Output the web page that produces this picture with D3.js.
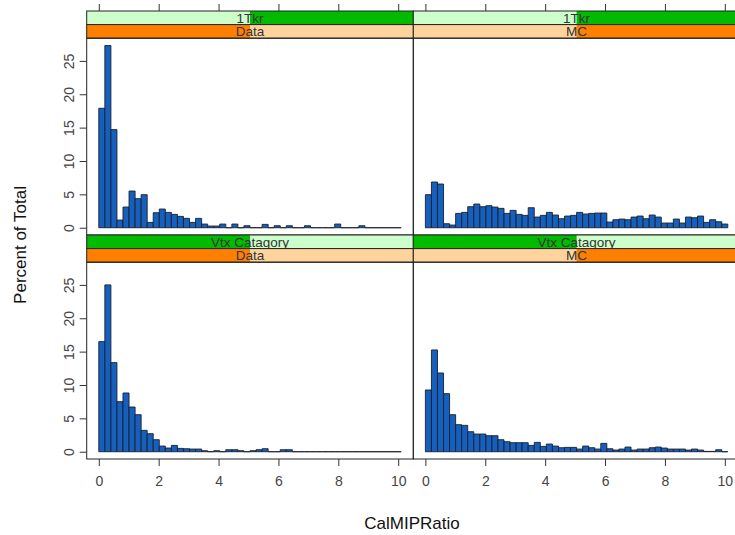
<!DOCTYPE html>
<html>
<head>
<meta charset="utf-8">
<script src="https://cdn.jsdelivr.net/npm/d3@7/dist/d3.min.js"></script>
<style>
  body { margin: 0; background: #fff; }
  text { font-family: "Liberation Sans", Arial, sans-serif; }
</style>
</head>
<body>
<div id="chart"></div>
<script>
// histogram bins start at 0, each bin is this wide (50 bins)
var binWidth = 0.202;
var xTicks = [0, 2, 4, 6, 8, 10];
var yTicks = [0, 5, 10, 15, 20, 25];

// percent of total per bin
var tkrData = [17.9, 27.3, 14.7, 1.15, 3.1, 5.5, 4.35, 4.95, 0.8, 2.25,
               2.8, 2.3, 2.0, 1.7, 1.4, 0.8, 1.4, 0.55, 0.25, 0.25,
               0.55, 0, 0.55, 0, 0.3, 0, 0, 0.5, 0, 0.3,
               0, 0.3, 0, 0, 0.3, 0, 0, 0, 0, 0.55,
               0, 0, 0, 0.3, 0, 0, 0, 0, 0, 0];
var tkrMC = [4.95, 6.85, 6.55, 0.6, 0.4, 2.15, 2.3, 3.15, 3.55, 3.15,
             3.3, 3.1, 2.9, 2.15, 2.6, 2.0, 1.85, 3.0, 1.6, 1.85,
             2.3, 1.9, 1.35, 1.75, 1.85, 2.3, 2.05, 2.15, 2.2, 2.2,
             0.85, 1.2, 1.3, 1.2, 1.6, 1.75, 1.35, 1.9, 1.6, 0.7,
             0.7, 1.3, 0.7, 1.6, 1.5, 1.75, 0.8, 1.2, 0.9, 0.55];
var vtxData = [16.5, 25.0, 13.35, 7.5, 8.8, 6.7, 5.55, 3.2, 2.7, 1.8,
               0.85, 0.55, 0.95, 0.5, 0.45, 0.4, 0.4, 0.15, 0, 0.15,
               0, 0.3, 0.3, 0.15, 0, 0.15, 0.3, 0.45, 0, 0,
               0.3, 0.3, 0, 0, 0, 0, 0, 0, 0, 0,
               0, 0, 0, 0, 0, 0, 0, 0, 0, 0];
var vtxMC = [9.25, 15.25, 11.8, 8.7, 5.55, 4.05, 3.95, 3.0, 2.65, 2.65,
             2.4, 2.4, 1.8, 1.5, 1.35, 1.35, 1.35, 0.95, 1.4, 0.8,
             1.15, 0.85, 0.6, 0.65, 0.65, 0.4, 0.85, 0.6, 0.4, 1.25,
             0.45, 0.25, 0.4, 0.7, 0.25, 0.4, 0.4, 0.6, 0.7, 0.55,
             0.4, 0.4, 0.4, 0.25, 0.4, 0.25, 0.05, 0.05, 0.3, 0];

var outerLevels = ["Vtx Catagory", "1Tkr"];
var innerLevels = ["Data", "MC"];

var panels = [
  {row: 0, col: 0, values: tkrData, outer: 1, inner: 0},
  {row: 0, col: 1, values: tkrMC,   outer: 1, inner: 1},
  {row: 1, col: 0, values: vtxData, outer: 0, inner: 0},
  {row: 1, col: 1, values: vtxMC,   outer: 0, inner: 1}
];

var w = 735, h = 535;
var left = 86.7, panelW = 326.6;
var rowTop = [11, 235];
var stripH = 13.6;
var plotH = 196.8;

var lightCol = ["#ffd49c", "#ccffcc"];  // inner (orange), outer (green)
var darkCol  = ["#ff8000", "#00bb00"];

var svg = d3.select("#chart").append("svg")
    .attr("width", w)
    .attr("height", h);

var x = d3.scaleLinear().domain([-0.404, 10.504]).range([0, panelW]);
var y = d3.scaleLinear().domain([-1.09, 28.4]).range([plotH, 0]);

function strip(g, yTop, levelIdx, nLevels, label, colIdx) {
  var sw = panelW / nLevels;
  g.append("rect")
    .attr("x", 0).attr("y", yTop)
    .attr("width", panelW).attr("height", stripH)
    .attr("fill", lightCol[colIdx]);
  g.append("rect")
    .attr("x", sw * levelIdx).attr("y", yTop)
    .attr("width", sw).attr("height", stripH)
    .attr("fill", darkCol[colIdx]);
  g.append("rect")
    .attr("x", 0).attr("y", yTop)
    .attr("width", panelW).attr("height", stripH)
    .attr("fill", "none").attr("stroke", "#222").attr("stroke-width", 1);
  g.append("text")
    .attr("x", panelW / 2).attr("y", yTop + stripH / 2)
    .attr("dy", "0.36em")
    .attr("text-anchor", "middle")
    .attr("font-size", "13.5px")
    .attr("fill", "#333")
    .text(label);
}

panels.forEach(function(p) {
  var top = rowTop[p.row];
  var g = svg.append("g")
      .attr("transform", "translate(" + (left + p.col * panelW) + "," + top + ")");

  strip(g, 0, p.outer === 1 ? 1 : 0, 2, outerLevels[p.outer], 1);
  strip(g, stripH, p.inner, 2, innerLevels[p.inner], 0);

  var plot = g.append("g").attr("transform", "translate(0," + (2 * stripH) + ")");

  plot.selectAll("path.bar").data(p.values).enter()
    .append("path")
    .attr("class", "bar")
    .attr("d", function(d, i) {
      var x0 = x(i * binWidth), x1 = x((i + 1) * binWidth);
      var y0 = y(0), y1 = y(d);
      return "M" + x0 + "," + y0 + "V" + y1 + "H" + x1 + "V" + y0 + "Z";
    })
    .attr("fill", "#1560bd")
    .attr("stroke", "#1a1f30")
    .attr("stroke-width", 0.9);

  plot.append("rect")
    .attr("width", panelW).attr("height", plotH)
    .attr("fill", "none").attr("stroke", "#222").attr("stroke-width", 1);

  // axes
  if (p.row === 0) {
    g.append("g")
      .call(d3.axisTop(x).tickValues(xTicks).tickSize(7).tickFormat(""))
      .call(function(a) { a.select(".domain").remove(); })
      .selectAll("line").attr("stroke", "#333");
  } else {
    var bx = plot.append("g")
      .attr("transform", "translate(0," + plotH + ")")
      .call(d3.axisBottom(x).tickValues(xTicks).tickSize(7).tickPadding(10));
    bx.select(".domain").remove();
    bx.selectAll("line").attr("stroke", "#333");
    bx.selectAll("text").attr("font-size", "14px").attr("fill", "#444")
      .attr("font-family", "'Liberation Sans', Arial, sans-serif");
  }
  if (p.col === 0) {
    var ly = plot.append("g")
      .call(d3.axisLeft(y).tickValues(yTicks).tickSize(7));
    ly.select(".domain").remove();
    ly.selectAll("line").attr("stroke", "#333");
    ly.selectAll("text")
      .attr("x", 0).attr("dy", "0.36em")
      .attr("transform", "translate(-18,0) rotate(-90)")
      .attr("text-anchor", "middle")
      .attr("font-size", "14px").attr("fill", "#444")
      .attr("font-family", "'Liberation Sans', Arial, sans-serif");
  }
});

svg.append("text")
  .attr("x", 412).attr("y", 523)
  .attr("dy", "0.36em")
  .attr("text-anchor", "middle")
  .attr("font-size", "17px")
  .attr("fill", "#111")
  .text("CalMIPRatio");

svg.append("text")
  .attr("transform", "translate(20,245) rotate(-90)")
  .attr("dy", "0.36em")
  .attr("text-anchor", "middle")
  .attr("font-size", "17px")
  .attr("fill", "#111")
  .text("Percent of Total");
</script>
</body>
</html>
